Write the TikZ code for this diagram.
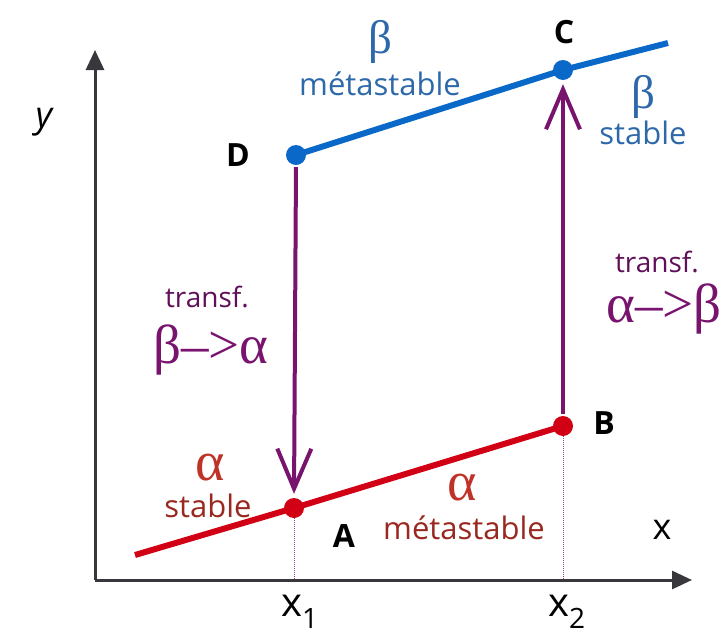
\documentclass[tikz,border=0pt]{standalone}
\usepackage{fontspec}
\setmainfont{Open Sans}
\newfontfamily\grk{Liberation Serif}
\usetikzlibrary{arrows.meta}
\definecolor{cblue}{RGB}{10,105,200}
\definecolor{tblue}{RGB}{45,105,170}
\definecolor{cred}{RGB}{210,0,20}
\definecolor{tred}{RGB}{190,50,40}
\definecolor{cpurp}{RGB}{120,20,110}
\definecolor{caxis}{RGB}{55,55,60}
\begin{document}
\begin{tikzpicture}[x=1pt,y=-1pt,
  axis/.style={line width=3pt,color=caxis,-{Triangle[length=20pt,width=18pt]}},
  pt/.style={circle,fill=#1,inner sep=0pt,minimum size=20pt},
  trans/.style={line width=4pt,color=cpurp,-{Straight Barb[length=40pt,width=34pt,line width=4pt]},shorten >=4pt, shorten <=2pt},
  guide/.style={cpurp!80,line width=1pt,densely dotted},
  ptlab/.style={font=\fontsize{32}{34}\selectfont\bfseries},
  small/.style={font=\fontsize{31}{33}\selectfont},
  trsmall/.style={font=\fontsize{28}{30}\selectfont},
  greekb/.style={font=\fontsize{47}{49}\selectfont\grk},
  greeka/.style={font=\fontsize{56}{58}\selectfont\grk},
  greekt/.style={font=\fontsize{55}{57}\selectfont\grk},
  axlab/.style={font=\fontsize{40}{42}\selectfont}]
\useasboundingbox (0,0) rectangle (724,640);
% axes
\coordinate (O) at (95,580);
\coordinate (Ytop) at (95,50);
\coordinate (Xend) at (692,580);
\draw[axis] (O) -- (Ytop);
\draw[axis] (O) -- (Xend);
% points
\node[pt=cred] (A) at (294,508) {};
\node[pt=cred] (B) at (563,426) {};
\node[pt=cblue] (D) at (296,155) {};
\node[pt=cblue] (C) at (563,70) {};
\coordinate (Rs) at (135,555);
\coordinate (Be) at (668,43);
\coordinate (X1) at (294,580);
\coordinate (X2) at (563,580);
% guides
\draw[guide] (A) -- (X1);
\draw[guide] (B) -- (X2);
% lines
\draw[cred,line width=6pt] (Rs) -- (A.center) -- (B.center);
\draw[cblue,line width=6pt] (D.center) -- (C.center) -- (Be);
% transformations
\draw[trans] (D.south) -- (A.north);
\draw[trans] (B.north) -- (C.south);
% point labels
\node[ptlab] (lD) at (238,155) {D};
\node[ptlab] (lC) at (564,32) {C};
\node[ptlab] (lB) at (604,423) {B};
\node[ptlab] (lA) at (344,536) {A};
% axis labels
\node[axlab,font=\fontsize{36}{38}\selectfont\itshape] (ly) at (44,122) {y};
\node[axlab,font=\fontsize{36}{38}\selectfont] (lx) at (662,530) {x};
\node[axlab] (lx1) at (300,612) {x$_{\mathrm{1}}$};
\node[axlab] (lx2) at (567,612) {x$_{\mathrm{2}}$};
% phase labels
\node[greekb,text=tblue] (b1) at (380,42) {β};
\node[small,text=tblue] (m1) at (380,84) {métastable};
\node[greekb,text=tblue] (b2) at (643,97) {β};
\node[small,text=tblue] (s2) at (643,133) {stable};
\node[greeka,text=tred] (a1) at (210,468) {α};
\node[small,text=tred!80!black] (s1) at (208,506) {stable};
\node[greeka,text=tred] (a2) at (462,488) {α};
\node[small,text=tred!80!black] (m2) at (464,528) {métastable};
% transformation labels
\node[trsmall,text=cpurp!80!black] (t1) at (207,297) {transf.};
\node[greekt,text=cpurp] (t1g) at (211,350) {β–>α};
\node[trsmall,text=cpurp!80!black] (t2) at (657,262) {transf.};
\node[greekt,text=cpurp] (t2g) at (664,309) {α–>β};
\end{tikzpicture}
\end{document}
